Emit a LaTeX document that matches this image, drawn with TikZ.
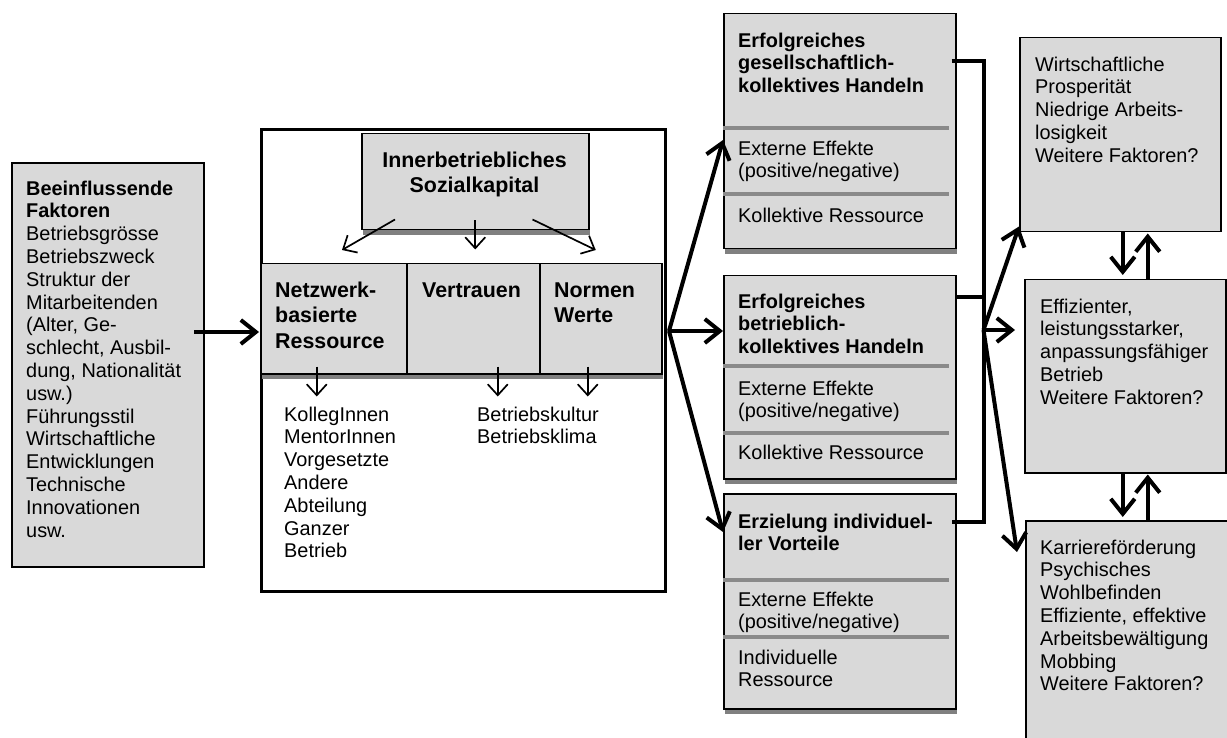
\documentclass[tikz,border=0pt]{standalone}
\usepackage{fontspec}
\setmainfont{Liberation Sans}
\usetikzlibrary{arrows.meta,calc,shadows}
\definecolor{boxgray}{RGB}{217,217,217}
\definecolor{sepgray}{RGB}{138,138,138}
\definecolor{shgray}{RGB}{128,128,128}
\newcommand{\fsreg}{\fontsize{19.9}{22.8}\selectfont}
\newcommand{\fsbold}{\fontsize{21.4}{25.6}\selectfont\bfseries}
\begin{document}
\begin{tikzpicture}[x=1pt,y=-1pt,
  box/.style={draw=black, line width=1.5pt, fill=boxgray, anchor=north west, inner sep=0pt},
  shbox/.style={box, general shadow={fill=shgray, shadow xshift=1pt, shadow yshift=-5pt}},
  txt/.style={anchor=north west, inner sep=0pt, align=left, font=\fsreg},
  btxt/.style={anchor=north west, inner sep=0pt, align=left, font=\fsbold},
  ctxt/.style={anchor=north west, inner sep=0pt, align=left, font=\fsreg\bfseries},
  tarr/.style={line width=1.7pt, -{Straight Barb[length=11pt,width=20pt]}},
  barr/.style={line width=4pt, -{Straight Barb[length=15pt,width=24pt]}},
  conn/.style={line width=4pt},
  sepline/.style={draw=sepgray, line width=4.5pt}]
\useasboundingbox (0,0) rectangle (1227,738);
\clip (0,0) rectangle (1227,738);

% left box
\node[box, line width=2pt, minimum width=192pt, minimum height=404pt] (lb) at (11,162) {};
\node[txt] (lbt) at (26,179) {\strut\textbf{Beeinflussende}\\\textbf{Faktoren}\\Betriebsgrösse\\Betriebszweck\\Struktur der\\Mitarbeitenden\\(Alter, Ge-\\schlecht, Ausbil-\\dung, Nationalität\\usw.)\\Führungsstil\\Wirtschaftliche\\Entwicklungen\\Technische\\Innovationen\\usw.};

% middle box
\node[draw=black, line width=3pt, anchor=north west, inner sep=0pt, minimum width=404pt, minimum height=462pt] (mb) at (260,128) {};
\node[shbox, minimum width=227pt, minimum height=96pt] (sk) at (361,133) {};
\node[btxt, anchor=north, align=center] (skt) at (474.5,149) {\strut Innerbetriebliches\\Sozialkapital};
\node[shbox, minimum width=146pt, minimum height=110pt] (r1) at (260,263) {};
\node[shbox, minimum width=133pt, minimum height=110pt] (r2) at (406,263) {};
\node[shbox, minimum width=122pt, minimum height=110pt] (r3) at (539,263) {};
\node[btxt] (r1t) at (275,279) {\strut Netzwerk-\\basierte\\Ressource};
\node[btxt] (r2t) at (422,279) {\strut Vertrauen};
\node[btxt] (r3t) at (554,279) {\strut Normen\\Werte};
\node[txt] (l1) at (284,405) {\strut KollegInnen\\MentorInnen\\Vorgesetzte\\Andere\\Abteilung\\Ganzer\\Betrieb};
\node[txt] (l2) at (477,405) {\strut Betriebskultur\\Betriebsklima};

\draw[tarr] ($(sk.south west)+(34,-11)$) -- ($(r1.north west)+(82,-13)$);
\draw[tarr] ($(sk.south)+(0,-10)$) -- ($(sk.south)+(0,19)$);
\draw[tarr] ($(sk.south east)+(-57,-11)$) -- ($(r3.north)+(-5,-13)$);
\draw[tarr] ($(r1.south)+(-17,-8)$) -- ($(r1.south)+(-17,22)$);
\draw[tarr] ($(r2.south)+(24.5,-8)$) -- ($(r2.south)+(24.5,22)$);
\draw[tarr] ($(r3.south)+(-13,-8)$) -- ($(r3.south)+(-13,22)$);

% column 3
\node[shbox, minimum width=232pt, minimum height=235pt] (c1) at (723,13) {};
\node[shbox, minimum width=232pt, minimum height=203pt] (c2) at (723,275) {};
\node[shbox, minimum width=232pt, minimum height=215pt] (c3) at (723,493) {};
\draw[sepline] (723,128) -- (949,128);
\draw[sepline] (723,194) -- (949,194);
\draw[sepline] (723,366) -- (949,366);
\draw[sepline] (723,433) -- (949,433);
\draw[sepline] (723,580) -- (949,580);
\draw[sepline] (723,637) -- (949,637);
\node[ctxt] (c1a) at (738,31) {\strut Erfolgreiches\\gesellschaftlich-\\kollektives Handeln};
\node[txt] (c1b) at (738,139) {\strut Externe Effekte\\(positive/negative)};
\node[txt] (c1c) at (738,206) {\strut Kollektive Ressource};
\node[ctxt] (c2a) at (738,292) {\strut Erfolgreiches\\betrieblich-\\kollektives Handeln};
\node[txt] (c2b) at (738,379) {\strut Externe Effekte\\(positive/negative)};
\node[txt] (c2c) at (738,443) {\strut Kollektive Ressource};
\node[ctxt] (c3a) at (738,512) {\strut Erzielung individuel-\\ler Vorteile};
\node[txt] (c3b) at (738,590) {\strut Externe Effekte\\(positive/negative)};
\node[txt] (c3c) at (738,648) {\strut Individuelle\\Ressource};

% column 4
\node[box, minimum width=201pt, minimum height=194pt] (d1) at (1019,37) {};
\node[box, minimum width=201pt, minimum height=193pt] (d2) at (1024,279) {};
\node[box, minimum width=205pt, minimum height=240pt] (d3) at (1025,520) {};
\node[txt] (d1t) at (1035,55) {\strut Wirtschaftliche\\Prosperität\\Niedrige Arbeits-\\losigkeit\\Weitere Faktoren?};
\node[txt] (d2t) at (1040,297) {\strut Effizienter,\\leistungsstarker,\\anpassungsfähiger\\Betrieb\\Weitere Faktoren?};
\node[txt] (d3t) at (1040,538) {\strut Karriereförderung\\Psychisches\\Wohlbefinden\\Effiziente, effektive\\Arbeitsbewältigung\\Mobbing\\Weitere Faktoren?};

% main arrows
\draw[barr] ($(lb.north east)+(-11,170)$) -- ($(mb.north west)+(-1,204)$);
\coordinate (mo) at ($(mb.north east)+(2,203)$);
\draw[barr] (mo) -- ($(c1.north west)+(0,127)$);
\draw[barr] (mo) -- ($(c2.north west)+(0,56)$);
\draw[barr] (mo) -- ($(c3.north west)+(0,39)$);

% bracket
\draw[conn] ($(c1.north east)+(-5,48)$) -| ($(c3.north east)+(27,29)$) -- ($(c3.north east)+(-5,29)$);
\draw[conn] ($(c2.north east)+(0,22)$) -- ($(c2.north east)+(27,22)$);
\coordinate (j) at ($(c2.north east)+(27,55)$);
\draw[barr] (j) -- ($(d1.south west)+(0,-6)$);
\draw[barr] (j) -- ($(d2.north west)+(-9,51)$);
\draw[barr] (j) -- ($(d3.north west)+(-8,32)$);

% vertical pairs
\draw[barr] ($(d1.south)+(2.5,0)$) -- ($(d2.north)+(-2.5,-4)$);
\draw[barr] ($(d2.north)+(22.5,0)$) -- ($(d1.south)+(27.5,1)$);
\draw[barr] ($(d2.south)+(-2.5,0)$) -- ($(d3.north)+(-5.5,-3)$);
\draw[barr] ($(d3.north)+(19.5,0)$) -- ($(d2.south)+(22.5,1)$);
\end{tikzpicture}
\end{document}
